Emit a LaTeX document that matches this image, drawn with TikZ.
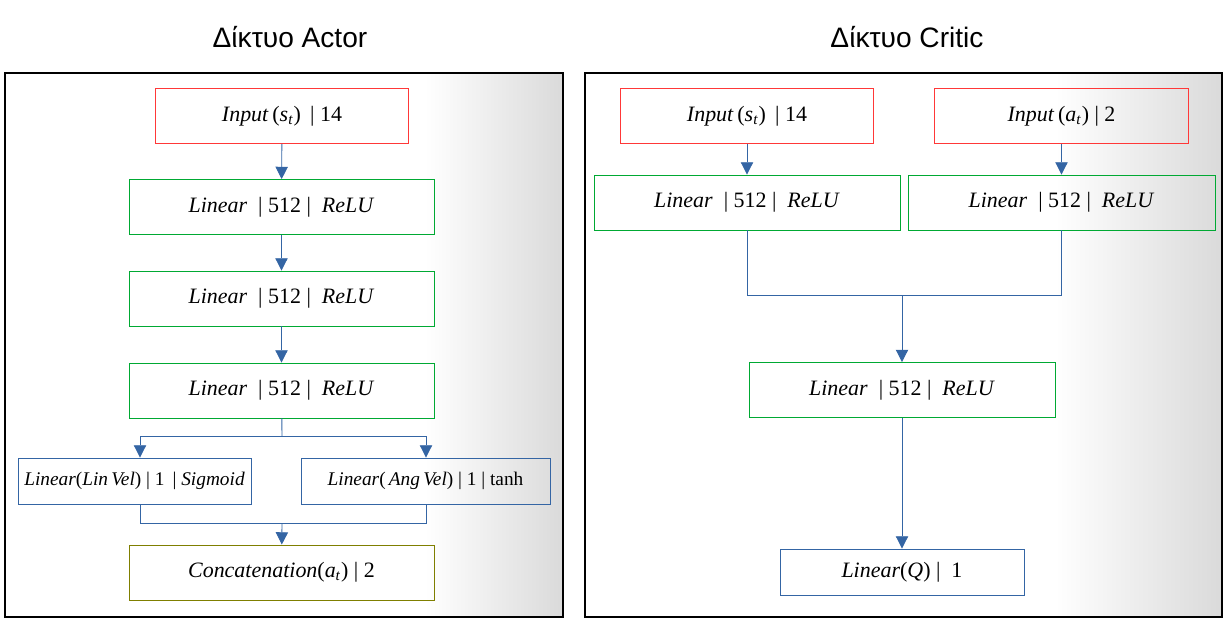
\documentclass[tikz,border=0pt]{standalone}
\usepackage{fontspec}
\setmainfont{Liberation Serif}
\newfontfamily\titlefont{Liberation Sans}
\usetikzlibrary{arrows.meta,positioning}
\definecolor{boxred}{HTML}{FF3838}
\definecolor{boxgreen}{HTML}{00A933}
\definecolor{boxblue}{HTML}{3465A4}
\definecolor{boxolive}{HTML}{7F7F00}
\definecolor{panelgray}{HTML}{DADADA}
\newcommand{\sub}[2]{\textit{#1}\textsubscript{\textit{#2}}}

\begin{document}
\begin{tikzpicture}[x=0.02cm,y=-0.02cm,
      layer_box/.style={
         rectangle,
         draw,
         line width=0.5pt,
         inner sep=2pt,
         minimum width=6.1cm,
         minimum height=1.1cm,
         font=\fontsize{12.5}{15}\selectfont},
      in_box/.style={
         layer_box,
         draw=boxred,
         minimum width=5.07cm},
      relu_box/.style={
         layer_box,
         draw=boxgreen},
      out_box/.style={
         layer_box,
         draw=boxblue,
         minimum height=0.92cm},
      head_box/.style={
         out_box,
         font=\fontsize{11}{13}\selectfont},
      cat_box/.style={
         layer_box,
         draw=boxolive},
      title_text/.style={
         font=\titlefont\fontsize{16}{19}\selectfont},
      link_blue/.style={
         draw=boxblue,
         line width=0.5pt},
      arrow_blue/.style={
         link_blue,
         -{Triangle[width=7pt,length=7pt]}}
]
      \useasboundingbox (0,0) rectangle (1228,626);

      %panels
      \shade[left color=white,right color=panelgray] (425,73) rectangle (563,617);
      \draw[line width=0.6pt] (5,73) rectangle (563,617);
      \shade[left color=white,right color=panelgray] (1055,73) rectangle (1222,617);
      \draw[line width=0.6pt] (585,73) rectangle (1222,617);

      \node[title_text] (a_title) at (290,37) {Δίκτυο Actor};
      \node[title_text] (c_title) at (907,37) {Δίκτυο Critic};

      %actor
      \node[in_box] (a_in) at (282,116) {\textit{Input}\,(\sub{s}{t})\ \,|\ 14};
      \node[relu_box] (a_l1) at (281.5,207) {\textit{Linear}\ \ |\ 512\ |\ \ \textit{ReLU}};
      \node[relu_box] (a_l2) at (281.5,298.5) {\textit{Linear}\ \ |\ 512\ |\ \ \textit{ReLU}};
      \node[relu_box] (a_l3) at (281.5,390.5) {\textit{Linear}\ \ |\ 512\ |\ \ \textit{ReLU}};
      \node[head_box,minimum width=4.66cm] (a_lin) at (134.5,481) {\textit{Linear}(\textit{Lin\,Vel})\ |\ 1\ \,|\ \textit{Sigmoid}};
      \node[head_box,minimum width=4.98cm] (a_ang) at (425.5,481) {\textit{Linear}(\,\textit{Ang\,Vel})\ |\ 1\ |\ tanh};
      \node[cat_box] (a_cat) at (281.5,572.5) {\textit{Concatenation}(\sub{a}{t})\ |\ 2};

      \draw[arrow_blue] (a_in) -- (a_l1);
      \draw[arrow_blue] (a_l1) -- (a_l2);
      \draw[arrow_blue] (a_l2) -- (a_l3);

      \coordinate (a_fork) at (282,436);
      \coordinate (a_forkL) at (140,436);
      \coordinate (a_forkR) at (426,436);
      \coordinate (a_join) at (282,523);
      \draw[link_blue] (a_l3) -- (a_fork);
      \draw[arrow_blue] (a_fork) -- (a_forkL) -- (a_forkL |- a_lin.north);
      \draw[arrow_blue] (a_fork) -- (a_forkR) -- (a_forkR |- a_ang.north);
      \draw[link_blue] (a_forkL |- a_lin.south) -- (a_forkL |- a_join) -- (a_forkR |- a_join) -- (a_forkR |- a_ang.south);
      \draw[arrow_blue] (a_join) -- (a_cat);

      %critic
      \node[in_box] (c_in_s) at (747,116) {\textit{Input}\,(\sub{s}{t})\ \,|\ 14};
      \node[in_box] (c_in_a) at (1061.5,116) {\textit{Input}\,(\sub{a}{t})\ |\ 2};
      \node[relu_box,minimum width=6.12cm] (c_l1) at (747,202.5) {\textit{Linear}\ \ |\ 512\ |\ \ \textit{ReLU}};
      \node[relu_box,minimum width=6.14cm] (c_l2) at (1061.5,202.5) {\textit{Linear}\ \ |\ 512\ |\ \ \textit{ReLU}};
      \node[relu_box,minimum width=6.12cm] (c_l3) at (902,390) {\textit{Linear}\ \ |\ 512\ |\ \ \textit{ReLU}};
      \node[out_box,minimum width=4.88cm] (c_q) at (902,572) {\textit{Linear}(\textit{Q})\ |\ \ 1};

      \draw[arrow_blue] (c_in_s) -- (c_l1);
      \draw[arrow_blue] (c_in_a) -- (c_l2);

      \coordinate (c_join) at (902,295);
      \draw[link_blue] (c_l1) -- (c_l1 |- c_join) -- (c_l2 |- c_join) -- (c_l2);
      \draw[arrow_blue] (c_join) -- (c_l3);
      \draw[arrow_blue] (c_l3) -- (c_q);

\end{tikzpicture}
\end{document}
